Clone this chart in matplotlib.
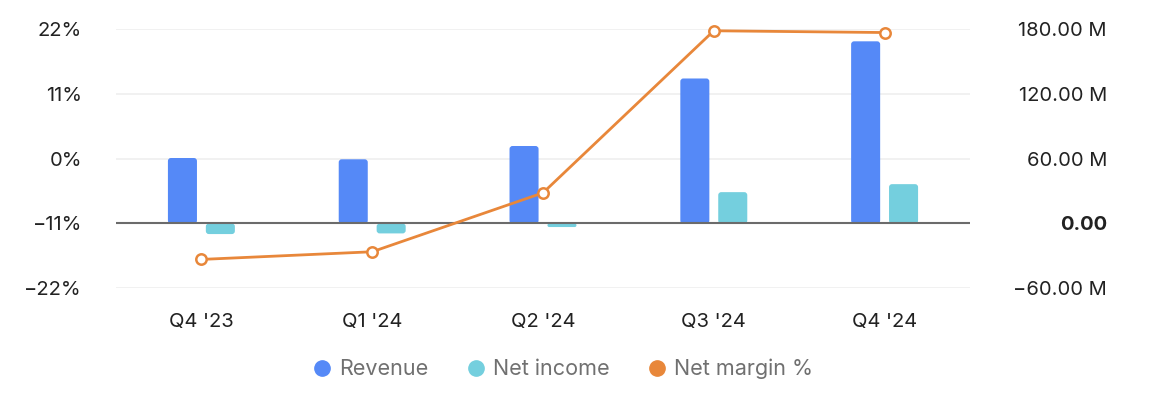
import matplotlib.pyplot as plt
from matplotlib.lines import Line2D
from matplotlib.patches import FancyBboxPatch
import numpy as np

plt.rcParams['font.family'] = ['Inter', 'DejaVu Sans']

quarters = ["Q4 '23", "Q1 '24", "Q2 '24", "Q3 '24", "Q4 '24"]
revenue = [60.6, 59.4, 71.7, 134.2, 168.6]      # M
net_income = [-9.8, -9.2, -3.3, 29.0, 36.4]     # M
net_margin = [-17.1, -15.8, -5.8, 21.7, 21.4]   # %

pct_ticks = [-22, -11, 0, 11, 22]
m_ticks = [-60, 0, 60, 120, 180]

c_rev = '#5589F7'
c_ni = '#74CFDE'
c_nm = '#E8873A'

fig = plt.figure(figsize=(11.52, 4.04), dpi=100)
ax = fig.add_axes([116 / 1152, 1 - 288.3 / 404, (970 - 116) / 1152, (288.3 - 29) / 404])

x = np.arange(len(quarters))
w = 0.17
ax.set_xlim(-0.5, len(quarters) - 0.5)
ax.set_ylim(-60, 180)

rev_bars = ax.bar(x - 0.111, revenue, w, color=c_rev, zorder=3)
ni_bars = ax.bar(x + 0.111, net_income, w, color=c_ni, zorder=3)

# swap the plain bars for slightly rounded ones
px_x = 1 / ((970 - 116) / len(quarters))
px_y = 240 / (288.3 - 29)
for bars in (rev_bars, ni_bars):
    for r in bars:
        x0, y0 = r.get_x(), r.get_y()
        bw, bh = r.get_width(), r.get_height()
        if bh < 0:
            y0, bh = y0 + bh, -bh
        rad = min(3 * px_x, bh / px_y * px_x / 2)
        p = FancyBboxPatch((x0, y0), bw, bh,
                           boxstyle=f'round,pad=0,rounding_size={rad}',
                           mutation_aspect=px_y / px_x,
                           fc=r.get_facecolor(), ec='none', zorder=3)
        ax.add_patch(p)
        r.remove()

for t in m_ticks:
    if t == 0:
        ax.axhline(t, color='#6b6b6b', lw=1.5, zorder=4)
    else:
        ax.axhline(t, color='#f0f0f0', lw=1.3, zorder=1)

ax.set_xticks(x)
ax.set_xticklabels(quarters)
ax.tick_params(axis='x', length=0, pad=18, labelsize=14.5, labelcolor='#222222')

for s in ax.spines.values():
    s.set_visible(False)

# percent axis on the left, drawn above the bars
ax2 = ax.twinx()
ax2.plot(x, net_margin, color=c_nm, lw=2.0, marker='o', ms=7.5,
         mfc='white', mec=c_nm, mew=1.8, zorder=5, clip_on=False)
ax2.set_ylim(-22, 22)
ax2.yaxis.tick_left()
ax2.set_yticks(pct_ticks)
ax2.set_yticklabels([f'{t}%'.replace('-', '\u2212') for t in pct_ticks])
ax2.tick_params(axis='y', length=0, pad=24.5, labelsize=14.5, labelcolor='#222222')
for s in ax2.spines.values():
    s.set_visible(False)

# money axis on the right (twinx moved it left, put it back)
ax.yaxis.tick_right()
ax.set_yticks(m_ticks)
labels = []
for t in m_ticks:
    if t == 0:
        labels.append('0.00')
    else:
        labels.append(f'{t:.2f} M'.replace('-', '\u2212'))
ax.set_yticklabels(labels)
ax.tick_params(axis='y', length=0, pad=98.6, labelsize=14.5, labelcolor='#222222')
for lab in ax.get_yticklabels():
    lab.set_horizontalalignment('right')
    if lab.get_text() == '0.00':
        lab.set_fontweight('bold')

handles = [
    Line2D([], [], marker='o', ls='none', ms=11, color=c_rev, label='Revenue'),
    Line2D([], [], marker='o', ls='none', ms=11, color=c_ni, label='Net income'),
    Line2D([], [], marker='o', ls='none', ms=11, color=c_nm, label='Net margin %'),
]
fig.legend(handles=handles, loc='center', bbox_to_anchor=(0.488, 1 - 369 / 404),
           ncol=3, frameon=False, fontsize=15.5, labelcolor='#707070',
           handletextpad=0.3, columnspacing=1.7, handlelength=1.0)

fig.savefig('out.png', dpi=100)
